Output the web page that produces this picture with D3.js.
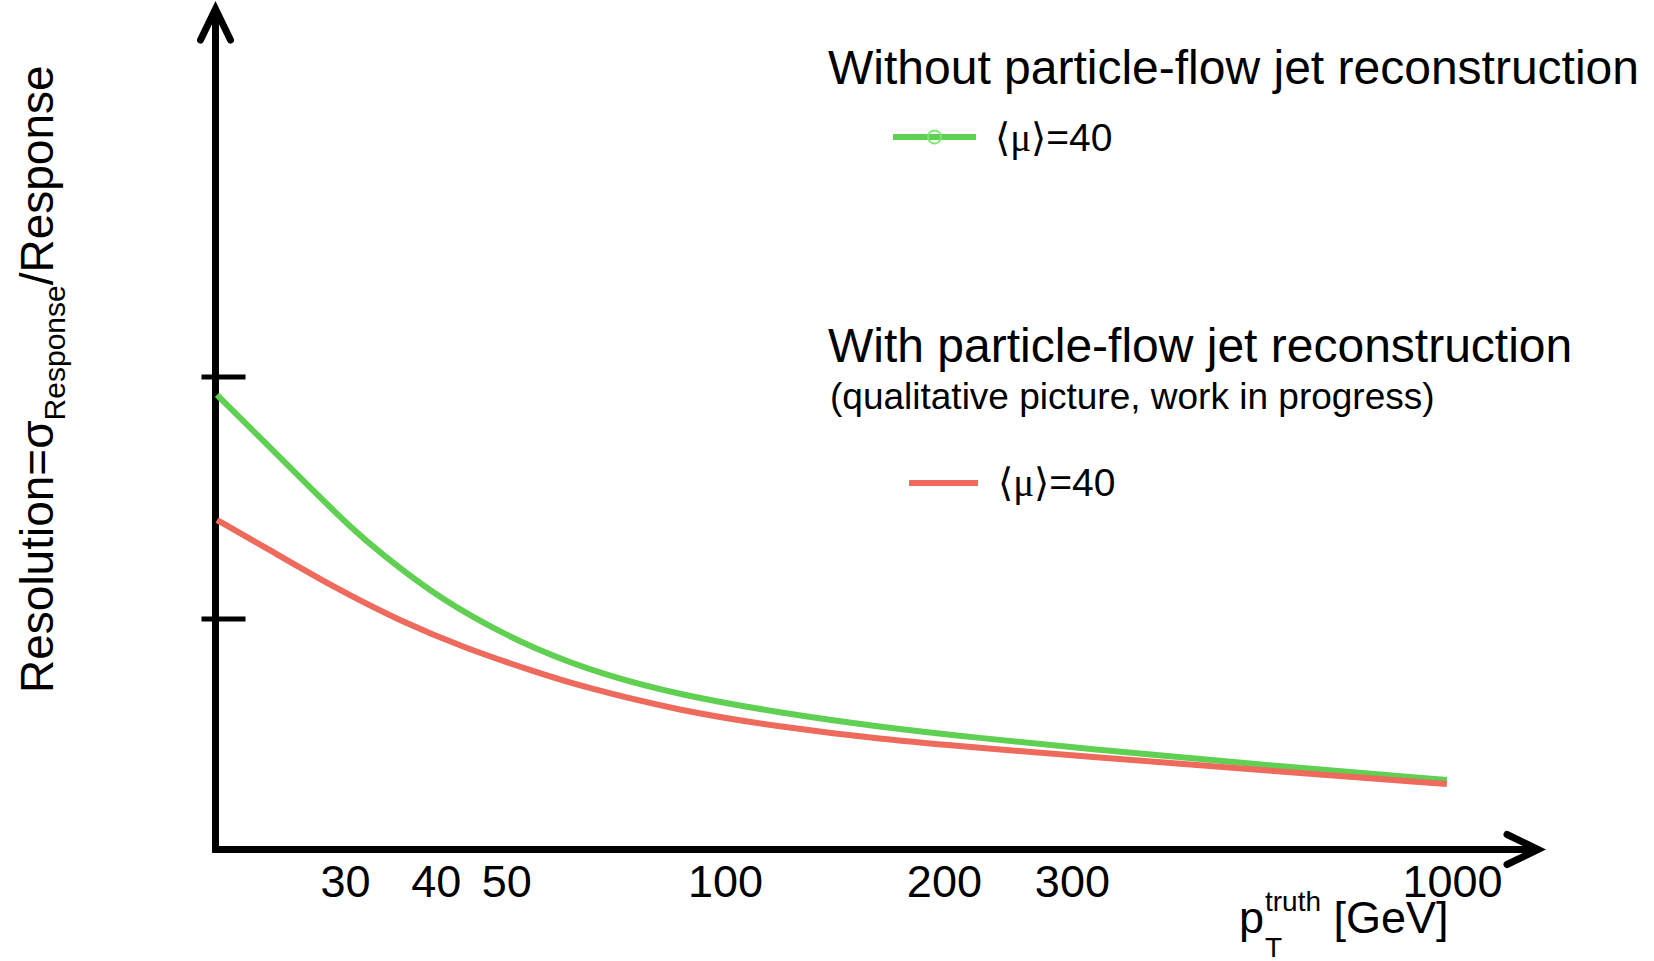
<!DOCTYPE html>
<html>
<head>
<meta charset="utf-8">
<script src="https://cdn.jsdelivr.net/npm/d3@7"></script>
<style>
    body { margin: 0; background: #fff; }
    svg text { font-family: "Liberation Sans", Arial, Helvetica, sans-serif; fill: #000; }
</style>
</head>
<body>
<div id="chart"></div>
<script>
// Jet resolution vs pT (qualitative sketch) - without / with particle-flow reconstruction

// pT truth [GeV] and resolution (arbitrary units)
const ptNoPF = [20, 23.4, 26.9, 30.5, 33.8, 39.6, 46.4, 54.4, 67.3, 86.7, 119, 163, 224, 308, 544, 984];
const resNoPF = [0.1926, 0.1723, 0.1541, 0.1380, 0.1265, 0.1107, 0.0984, 0.0880, 0.0773, 0.0686, 0.0612, 0.0554, 0.0508, 0.0467, 0.0397, 0.0335];

const ptPF = [20, 23.4, 28.9, 35.7, 44.2, 54.4, 63.1, 86.7, 119, 163, 224, 308, 544, 984];
const resPF = [0.1409, 0.1293, 0.1132, 0.0992, 0.0876, 0.0785, 0.0723, 0.0620, 0.0554, 0.0504, 0.0467, 0.0434, 0.0376, 0.0318];

const xTickValues = [30, 40, 50, 100, 200, 300, 1000];
const yTickValues = [0.1, 0.2];

const seriesNames = ["Without particle-flow jet reconstruction", "With particle-flow jet reconstruction"];
const legendLabel = "=40";
const subtitle = "(qualitative picture, work in progress)";

const colors = { noPF: "#5fd052", pf: "#ee6a5c" };

const width = 1654;
const height = 961;

const svg = d3.select("#chart").append("svg")
    .attr("width", width)
    .attr("height", height);

// scales
const x = d3.scaleLog().domain([20, 1000]).range([217, 1452]);
const y = d3.scaleLinear().domain([0.1, 0.2]).range([619, 377]);

const axisX = 215.5;   // position of the vertical axis
const axisY = 849.5;   // position of the horizontal axis

// axes with arrows
const axes = svg.append("g")
    .attr("fill", "none")
    .attr("stroke", "#000")
    .attr("stroke-width", 7);

axes.append("path")
    .attr("d", `M${axisX},${axisY + 3} L${axisX},9`);
axes.append("path")
    .attr("d", `M${axisX - 15},40 L${axisX},9 L${axisX + 15},40`)
    .attr("stroke-linecap", "round");

axes.append("path")
    .attr("d", `M${axisX - 3},${axisY} L1537,${axisY}`);
axes.append("path")
    .attr("d", `M1507,${axisY - 15} L1538,${axisY} L1507,${axisY + 15}`)
    .attr("stroke-linecap", "round");

// y ticks (crossing marks, no labels)
svg.append("g")
    .selectAll("line")
    .data(yTickValues)
    .join("line")
    .attr("x1", axisX - 14)
    .attr("x2", axisX + 30)
    .attr("y1", d => y(d))
    .attr("y2", d => y(d))
    .attr("stroke", "#000")
    .attr("stroke-width", 5);

// x tick labels
const xAxis = d3.axisBottom(x)
    .tickValues(xTickValues)
    .tickSize(0)
    .tickPadding(16)
    .tickFormat(d3.format("d"));

const gx = svg.append("g")
    .attr("transform", `translate(0,${axisY})`)
    .call(xAxis);
gx.select(".domain").remove();
gx.selectAll("text")
    .style("font-family", '"Liberation Sans", Arial, sans-serif')
    .style("font-size", "45px")
    .attr("fill", "#000");

// curves
const line = d3.line()
    .x(d => x(d[0]))
    .y(d => y(d[1]))
    .curve(d3.curveBasis);

const curves = [
    { pts: d3.zip(ptNoPF, resNoPF), color: colors.noPF },
    { pts: d3.zip(ptPF, resPF), color: colors.pf }
];

svg.append("g")
    .selectAll("path")
    .data(curves)
    .join("path")
    .attr("d", d => line(d.pts))
    .attr("fill", "none")
    .attr("stroke", d => d.color)
    .attr("stroke-width", 6);

// legend / titles
svg.append("text")
    .attr("x", 828).attr("y", 84)
    .style("font-size", "48px")
    .text(seriesNames[0]);

svg.append("text")
    .attr("x", 828).attr("y", 362)
    .style("font-size", "48px")
    .text(seriesNames[1]);

svg.append("text")
    .attr("x", 830).attr("y", 409)
    .style("font-size", "37px")
    .text(subtitle);

function legendEntry(x1, x2, ly, tx, ty, color, marker) {
    const g = svg.append("g");
    g.append("line")
        .attr("x1", x1).attr("x2", x2)
        .attr("y1", ly).attr("y2", ly)
        .attr("stroke", color)
        .attr("stroke-width", 6);
    if (marker) {
        g.append("circle")
            .attr("cx", (x1 + x2) / 2).attr("cy", ly)
            .attr("r", 6.5)
            .attr("fill", "none")
            .attr("stroke", "#7be86e")
            .attr("stroke-width", 1.8);
    }
    const t = g.append("text")
        .attr("x", tx).attr("y", ty)
        .style("font-size", "39px");
    t.append("tspan")
        .style("font-family", '"Liberation Serif", "DejaVu Serif", serif')
        .text("\u27E8\u03BC\u27E9");
    t.append("tspan").text(legendLabel);
}

legendEntry(893, 976, 137, 995, 151, colors.noPF, true);
legendEntry(909, 978, 483, 998, 496, colors.pf, false);

// y axis title
const ylab = svg.append("text")
    .attr("transform", "translate(53,693) rotate(-90)")
    .style("font-size", "46px");
ylab.append("tspan").text("Resolution=\u03C3");
ylab.append("tspan").attr("dy", 12).style("font-size", "30px").text("Response");
ylab.append("tspan").attr("dy", -12).text("/Response");

// x axis title
const xl = svg.append("g").attr("transform", "translate(1239,933)");
xl.append("text").style("font-size", "45px").text("p");
xl.append("text").attr("x", 26).attr("y", -22).style("font-size", "28px").text("truth");
xl.append("text").attr("x", 26).attr("y", 24).style("font-size", "28px").text("T");
xl.append("text").attr("x", 82).style("font-size", "45px").attr("xml:space", "preserve").text(" [GeV]");
</script>
</body>
</html>
